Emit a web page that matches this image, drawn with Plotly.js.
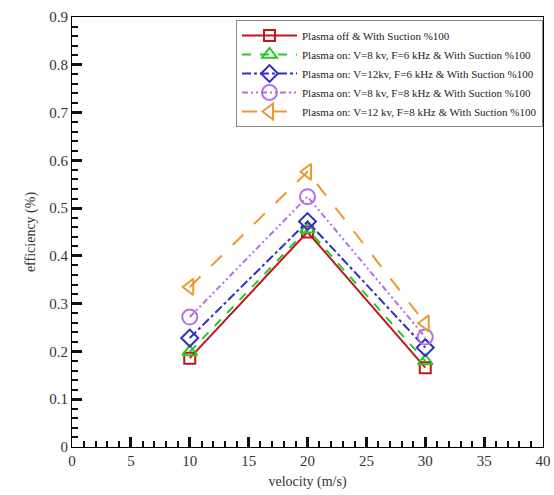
<!DOCTYPE html>
<html>
<head>
<meta charset="utf-8">
<script src="https://cdn.plot.ly/plotly-3.0.1.min.js"></script>
<style>html,body{margin:0;padding:0;background:#fff;}#chart{width:554px;height:495px;}</style>
</head>
<body>
<div id="chart"></div>
<script>
const velocity = [10, 20, 30];
const seriesNames = [
  "Plasma off & With Suction %100",
  "Plasma on: V=8 kv, F=6 kHz & With Suction %100",
  "Plasma on: V=12kv, F=6 kHz & With Suction %100",
  "Plasma on: V=8 kv, F=8 kHz & With Suction %100",
  "Plasma on: V=12 kv, F=8 kHz & With Suction %100"
];
const plasmaOff = [0.186, 0.450, 0.166];
const v8f6 = [0.199, 0.456, 0.180];
const v12f6 = [0.228, 0.472, 0.208];
const v8f8 = [0.272, 0.524, 0.230];
const v12f8 = [0.335, 0.576, 0.259];

const values = [plasmaOff, v8f6, v12f6, v8f8, v12f8];
const colors = ["#c0171f", "#2cc52c", "#2e2ec4", "#b36ee8", "#ec9a2e"];
const dashes = ["solid", "dash", "dashdot", "6px,3px,2px,3px,2px,3px", "longdash"];
const symbols = ["square-open", "triangle-up-open", "diamond-open", "circle-open", "triangle-left-open"];
const sizes = [11, 13, 13, 15, 14];

const traces = values.map((v, i) => ({
  x: velocity, y: v, name: seriesNames[i], type: "scatter", mode: "lines+markers",
  line: {color: colors[i], width: 2, dash: dashes[i]},
  marker: {symbol: symbols[i], size: sizes[i], color: colors[i], line: {width: 2, color: colors[i]}}
}));

const serif = "'Liberation Serif'";
const layout = {
  width: 554, height: 495,
  margin: {l: 72, r: 11, t: 17, b: 48},
  font: {family: serif},
  showlegend: true,
  legend: {x: 1, xanchor: "right", y: 0.993, yanchor: "top", bgcolor: "#fff",
    bordercolor: "#888", borderwidth: 1, font: {family: serif, size: 11, color: "#222"},
    itemwidth: 55, tracegroupgap: 0},
  xaxis: {range: [0, 40], dtick: 5, ticks: "inside", ticklen: 10, tickwidth: 3,
    tickcolor: "#111", showgrid: false, zeroline: false, showline: true, linecolor: "#000",
    mirror: true,
    minor: {dtick: 1, ticks: "inside", ticklen: 6, tickwidth: 1.5, tickcolor: "#111"},
    tickfont: {family: serif, size: 15, color: "#333"},
    title: {text: "velocity (m/s)", font: {family: serif, size: 14, color: "#333"}, standoff: 8}},
  yaxis: {range: [0, 0.9], dtick: 0.1, ticks: "inside", ticklen: 10, tickwidth: 3,
    tickcolor: "#111", showgrid: false, zeroline: false, showline: true, linecolor: "#000",
    mirror: true,
    minor: {dtick: 0.02, ticks: "inside", ticklen: 6, tickwidth: 1.5, tickcolor: "#111"},
    tickfont: {family: serif, size: 15, color: "#333"},
    title: {text: "efficiency (%)", font: {family: serif, size: 14, color: "#333"}, standoff: 10}}
};
Plotly.newPlot("chart", traces, layout, {displayModeBar: false});
</script>
</body>
</html>
